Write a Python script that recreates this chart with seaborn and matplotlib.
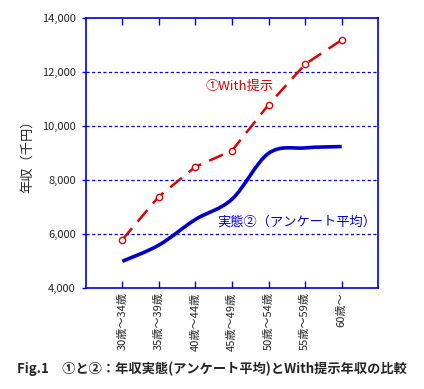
import numpy as np
import pandas as pd
import seaborn as sns
import matplotlib.pyplot as plt
from matplotlib.path import Path
from matplotlib.patches import PathPatch

# data
ages = ['30歳～34歳', '35歳～39歳', '40歳～44歳', '45歳～49歳',
        '50歳～54歳', '55歳～59歳', '60歳～']
with_offer = [5800, 7400, 8500, 9100, 10800, 12300, 13200]
actual_avg = [5000, 5600, 6550, 7300, 9000, 9200, 9250]

sns.set_style('white')
plt.rcParams['font.family'] = ['Noto Sans CJK JP', 'DejaVu Sans']

BLUE = '#0000E0'
RED = '#E00000'

df = pd.DataFrame({'pos': range(len(ages)), 'age': ages,
                   'with': with_offer, 'actual': actual_avg})

fig = plt.figure(figsize=(4.24, 3.89), dpi=100)
ax = fig.add_axes([85.7 / 424, 1 - 288.3 / 389, (378.3 - 85.7) / 424, 270 / 389])

# blue smoothed line (Excel style bezier through the points)
x = df['pos'].to_numpy(float)
y = df['actual'].to_numpy(float)
verts = [(x[0], y[0])]
codes = [Path.MOVETO]
for i in range(len(x) - 1):
    p0 = (x[max(i - 1, 0)], y[max(i - 1, 0)])
    p1 = (x[i], y[i])
    p2 = (x[i + 1], y[i + 1])
    p3 = (x[min(i + 2, len(x) - 1)], y[min(i + 2, len(x) - 1)])
    c1 = (p1[0] + (p2[0] - p0[0]) / 6, p1[1] + (p2[1] - p0[1]) / 6)
    c2 = (p2[0] - (p3[0] - p1[0]) / 6, p2[1] - (p3[1] - p1[1]) / 6)
    verts += [c1, c2, p2]
    codes += [Path.CURVE4] * 3
ax.add_patch(PathPatch(Path(verts, codes), facecolor='none', edgecolor='#0000C8',
                       lw=2.6, capstyle='butt', zorder=3))

# red dashed line with open circle markers
sns.lineplot(data=df, x='pos', y='with', ax=ax, color=RED, lw=1.8,
             dashes=False, marker='o', markersize=4.5, markerfacecolor='white',
             markeredgecolor=RED, markeredgewidth=1, zorder=4)
ax.lines[-1].set_dashes([6, 3.5])

ax.set_xlim(-1, 7)
ax.set_ylim(4000, 14000)
ax.set_xticks(range(len(ages)))
ax.set_xticklabels(ages, rotation=90, fontsize=8, va='top')
ax.set_yticks(range(4000, 14001, 2000))
ax.set_yticklabels([f'{v:,}' for v in range(4000, 14001, 2000)], fontsize=8)
ax.tick_params(axis='x', top=True, bottom=True, direction='in', length=5,
               color=BLUE, width=1, pad=3)
ax.tick_params(axis='y', left=True, direction='out', length=3, color=BLUE,
               width=1, pad=4)
for v in range(6000, 13000, 2000):
    ax.axhline(v, color=BLUE, lw=0.9, ls=(0, (2.5, 2)), zorder=1)
for s in ax.spines.values():
    s.set_color(BLUE)
    s.set_linewidth(1.2)
ax.set_xlabel('')
ax.set_ylabel('年収（千円）', fontsize=9.5, labelpad=6)

ax.text(2.28, 11480, '①With提示', color=RED, fontsize=9.5, va='center', ha='left')
ax.text(2.6, 6450, '実態②（アンケート平均）', color=BLUE, fontsize=9.5,
        va='center', ha='left')

fig.text(0.5, 1 - 369 / 389, 'Fig.1　①と②：年収実態(アンケート平均)とWith提示年収の比較',
         ha='center', va='center', fontsize=9.5, fontweight='bold')

fig.savefig('out.png', dpi=100)
